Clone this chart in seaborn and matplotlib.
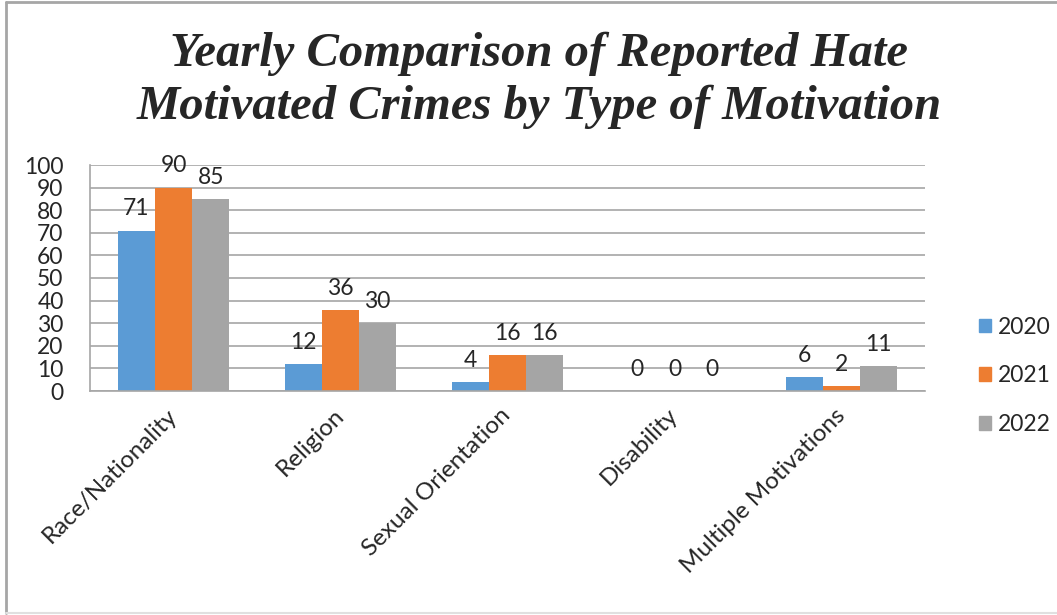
import pandas as pd
import seaborn as sns
import matplotlib.pyplot as plt
from matplotlib.lines import Line2D
from matplotlib.patches import Patch

# chart data
categories = ["Race/Nationality", "Religion", "Sexual Orientation", "Disability", "Multiple Motivations"]
years = ["2020", "2021", "2022"]
counts_2020 = [71, 12, 4, 0, 6]
counts_2021 = [90, 36, 16, 0, 2]
counts_2022 = [85, 30, 16, 0, 11]
colors = ["#5B9BD5", "#ED7D31", "#A5A5A5"]

df = pd.DataFrame({
    "Motivation": categories * 3,
    "Year": [y for y in years for _ in categories],
    "Count": counts_2020 + counts_2021 + counts_2022,
})

sns.set_style("white")
plt.rcParams["font.family"] = ["Lato", "DejaVu Sans"]

fig = plt.figure(figsize=(10.57, 6.15), dpi=100)
ax = fig.add_axes([90 / 1057, 1 - 391 / 615, 835 / 1057, 226 / 615])

sns.barplot(data=df, x="Motivation", y="Count", hue="Year", palette=colors,
            width=0.667, gap=0, saturation=1, linewidth=0, legend=False, ax=ax)

for cont in ax.containers:
    ax.bar_label(cont, fmt="%d", padding=8, fontsize=16.5)

ax.set_ylim(0, 100)
ax.set_xlim(-0.5, len(categories) - 0.5)
ax.set_yticks(range(0, 101, 10))
ax.yaxis.grid(True, color="#A6A6A6", lw=1.2)
ax.set_axisbelow(True)
ax.set_xlabel("")
ax.set_ylabel("")

for s in ["top", "right"]:
    ax.spines[s].set_visible(False)
for s in ["left", "bottom"]:
    ax.spines[s].set_color("#A6A6A6")
    ax.spines[s].set_linewidth(1.2)

ax.tick_params(axis="y", length=7, width=1.2, color="#A6A6A6", pad=12, labelsize=16.5)
ax.set_xticks([i - 0.5 for i in range(len(categories) + 1)], minor=True)
ax.tick_params(axis="x", which="minor", length=7, width=1.2, color="#A6A6A6", direction="out")
ax.tick_params(axis="x", which="major", length=0, pad=15, labelsize=17.5)
ax.set_xticks(range(len(categories)))
ax.set_xticklabels(categories, rotation=45, ha="right", va="center", rotation_mode="anchor")

handles = [Patch(color=c, label=y) for c, y in zip(colors, years)]
fig.legend(handles=handles, loc="center left", bbox_to_anchor=(958 / 1057, 1 - 376 / 615),
           frameon=False, fontsize=16.5, handlelength=0.55, handleheight=0.55,
           handletextpad=0.3, labelspacing=1.22)

fig.text(0.51, 1 - 80 / 615, "Yearly Comparison of Reported Hate\nMotivated Crimes by Type of Motivation",
         ha="center", va="center", fontsize=35, fontweight="bold", fontstyle="italic",
         family="Liberation Serif", linespacing=1.25)

# outer frame (left, top, bottom)
frame = dict(color="#A6A6A6", lw=2, transform=fig.transFigure)
fig.lines.append(Line2D([6 / 1057, 6 / 1057], [0.003, 0.997], **frame))
fig.lines.append(Line2D([6 / 1057, 1], [0.997, 0.997], **frame))
fig.lines.append(Line2D([6 / 1057, 1], [0.003, 0.003], color="#E0E0E0", lw=1.5, transform=fig.transFigure))

fig.savefig("out.png", dpi=100)
